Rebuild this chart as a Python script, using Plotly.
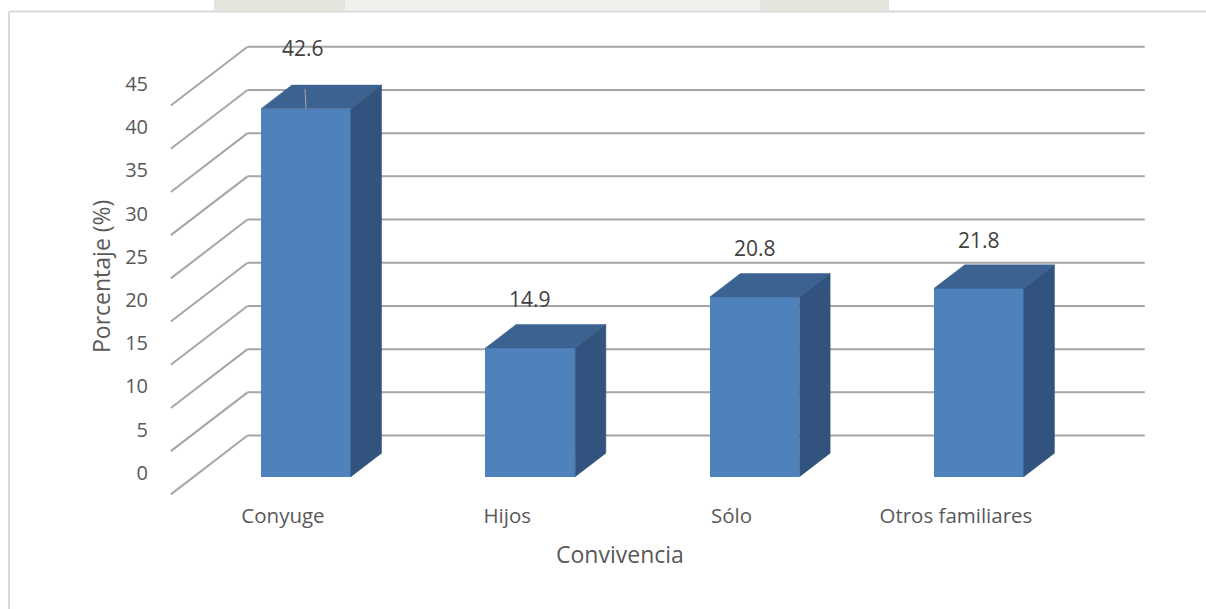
import plotly.graph_objects as go

# ---- data -------------------------------------------------------------
categories = ["Conyuge", "Hijos", "Sólo", "Otros familiares"]
porcentajes = [42.6, 14.9, 20.8, 21.8]
y_ticks = [0, 5, 10, 15, 20, 25, 30, 35, 40, 45]
x_title = "Convivencia"
y_title = "Porcentaje (%)"

# ---- page geometry (pixels) ------------------------------------------
FIG_W, FIG_H = 1206, 609
PLOT_L, PLOT_R, PLOT_T, PLOT_B = 152, 1206, 0, 500
CAT_PX = 224.3      # pixels per category step
UNIT_PX = 8.64      # pixels per percentage point
X0_PX = 306         # x pixel of first category centre (bar front plane)
Y0_PX = 476.7       # y pixel of value 0 (bar front plane)

# depth of the 3-D box, in axis units
DEPTH_X = 76.7 / CAT_PX
DEPTH_Y = 58.8 / UNIT_PX
BAR_FRONT = 0.3     # depth fraction at which the bar fronts sit
BAR_DEPTH = 0.4     # depth fraction taken by each bar
BAR_W = 0.4         # bar width in category units

x_range = [(PLOT_L - X0_PX) / CAT_PX, (PLOT_R - X0_PX) / CAT_PX]
y_range = [(Y0_PX - PLOT_B) / UNIT_PX, (Y0_PX - PLOT_T) / UNIT_PX]


def paper_x(px):
    return (px - PLOT_L) / (PLOT_R - PLOT_L)


def paper_y(py):
    return (PLOT_B - py) / (PLOT_B - PLOT_T)


FRONT_C = "#4F81BD"
TOP_C = "#3B6290"
SIDE_C = "#32537D"
GRID_C = "#a6a6a6"
TEXT_C = "#595959"
LABEL_C = "#404040"
FONT = "Open Sans"

positions = list(range(len(categories)))
fig = go.Figure()

# front faces of the columns
fig.add_trace(go.Bar(
    x=positions, y=porcentajes, width=BAR_W,
    marker=dict(color=FRONT_C, line=dict(width=0)),
    hoverinfo="skip", showlegend=False,
))

# top and side faces of the columns
dx = BAR_DEPTH * DEPTH_X
dy = BAR_DEPTH * DEPTH_Y
for i, v in zip(positions, porcentajes):
    xl, xr = i - BAR_W / 2, i + BAR_W / 2
    fig.add_trace(go.Scatter(
        x=[xl, xr, xr + dx, xl + dx, xl], y=[v, v, v + dy, v + dy, v],
        mode="lines", fill="toself", fillcolor=TOP_C,
        line=dict(color=TOP_C, width=0.5),
        hoverinfo="skip", showlegend=False,
    ))
    fig.add_trace(go.Scatter(
        x=[xr, xr + dx, xr + dx, xr, xr], y=[0, dy, v + dy, v, 0],
        mode="lines", fill="toself", fillcolor=SIDE_C,
        line=dict(color=SIDE_C, width=0.5),
        hoverinfo="skip", showlegend=False,
    ))

# back wall and side wall gridlines
shapes = []
wall_l = -0.5
wall_r = len(categories) - 0.5
back_dx = (1 - BAR_FRONT) * DEPTH_X
back_dy = (1 - BAR_FRONT) * DEPTH_Y
front_dx = BAR_FRONT * DEPTH_X
front_dy = BAR_FRONT * DEPTH_Y
for v in y_ticks:
    shapes.append(dict(
        type="line", xref="x", yref="y", layer="below",
        x0=wall_l + back_dx, x1=wall_r + back_dx,
        y0=v + back_dy, y1=v + back_dy,
        line=dict(color=GRID_C, width=2),
    ))
    shapes.append(dict(
        type="line", xref="x", yref="y", layer="below",
        x0=wall_l - front_dx, y0=v - front_dy,
        x1=wall_l + back_dx, y1=v + back_dy,
        line=dict(color=GRID_C, width=2),
    ))

# chart frame and faint header mark
shapes.append(dict(type="line", xref="paper", yref="paper", layer="below",
                   x0=paper_x(9), x1=paper_x(FIG_W + 5),
                   y0=paper_y(11.5), y1=paper_y(11.5),
                   line=dict(color="#d9d9d9", width=2)))
shapes.append(dict(type="line", xref="paper", yref="paper", layer="below",
                   x0=paper_x(9), x1=paper_x(9),
                   y0=paper_y(11.5), y1=paper_y(FIG_H + 5),
                   line=dict(color="#d9d9d9", width=2)))
for (a, b, c) in [(214, 345, "#e1e5dc"), (345, 760, "#eef0eb"), (760, 889, "#e1e5dc")]:
    shapes.append(dict(type="rect", xref="paper", yref="paper", layer="below",
                       x0=paper_x(a), x1=paper_x(b),
                       y0=paper_y(10.5), y1=paper_y(-2),
                       fillcolor=c, line=dict(width=0)))

# value labels
label_callout = [True, False, False, False]
annotations = []
for i, v, call in zip(positions, porcentajes, label_callout):
    if call:
        annotations.append(dict(
            x=i, y=v, xref="x", yref="y", text=f"{v}",
            showarrow=True, arrowhead=0, arrowwidth=1, arrowcolor="#a6a6a6",
            ax=-3, ay=-61, startstandoff=26,
            font=dict(family=FONT, size=21, color=LABEL_C),
        ))
    else:
        annotations.append(dict(
            x=i, y=v + dy, xref="x", yref="y", text=f"{v}",
            showarrow=False, yshift=25,
            font=dict(family=FONT, size=21, color=LABEL_C),
        ))

# axis titles
annotations.append(dict(
    x=paper_x(101), y=paper_y(277), xref="paper", yref="paper",
    xanchor="center", yanchor="middle",
    text=y_title, textangle=-90, showarrow=False,
    font=dict(family=FONT, size=23, color=TEXT_C),
))
annotations.append(dict(
    x=paper_x(620), y=paper_y(554), xref="paper", yref="paper",
    xanchor="center", yanchor="middle",
    text=x_title, showarrow=False,
    font=dict(family=FONT, size=23, color=TEXT_C),
))

fig.update_layout(
    width=FIG_W, height=FIG_H,
    margin=dict(l=PLOT_L, r=FIG_W - PLOT_R, t=PLOT_T, b=FIG_H - PLOT_B, pad=0),
    paper_bgcolor="white", plot_bgcolor="white",
    shapes=shapes, annotations=annotations,
    bargap=0,
    xaxis=dict(
        range=x_range, showgrid=False, zeroline=False, showline=False,
        tickmode="array",
        tickvals=[p - front_dx for p in positions], ticktext=categories,
        ticks="", ticklabelstandoff=1,
        tickfont=dict(family=FONT, size=20.5, color=TEXT_C),
        fixedrange=True,
    ),
    yaxis=dict(
        range=y_range, showgrid=False, zeroline=False, showline=False,
        tickmode="array",
        tickvals=[t + 0.45 for t in y_ticks], ticktext=[str(t) for t in y_ticks],
        ticks="", ticklabelstandoff=3,
        tickfont=dict(family=FONT, size=20, color=TEXT_C),
        fixedrange=True,
    ),
)

fig.write_html("out.html")
